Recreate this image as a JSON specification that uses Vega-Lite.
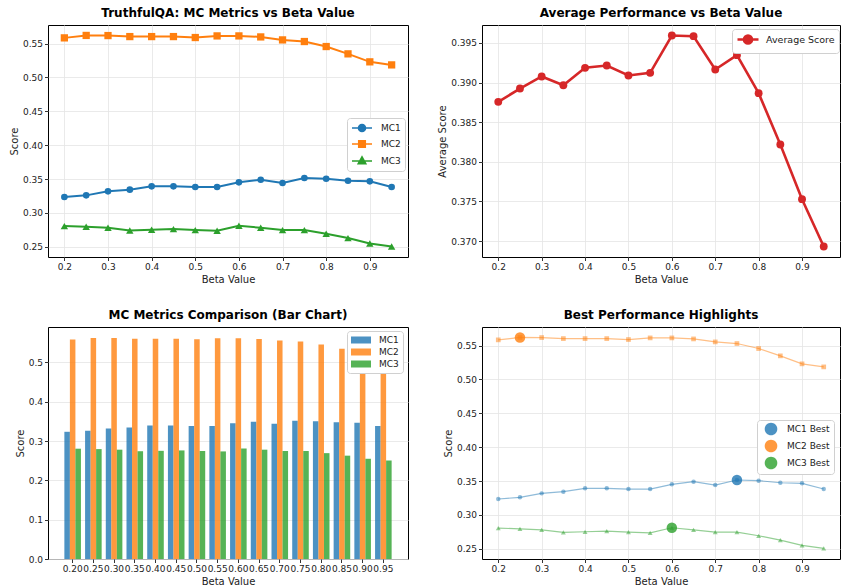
{
  "$schema": "https://vega.github.io/schema/vega-lite/v6.json",
  "background": "white",
  "padding": {"left": 8, "top": 6, "right": 1, "bottom": 0},
  "spacing": {"row": 23, "column": 28},
  "columns": 2,
  "resolve": {
    "scale": {"color": "independent", "stroke": "independent", "fill": "independent", "shape": "independent", "size": "independent", "x": "independent", "y": "independent"},
    "legend": {"color": "independent", "stroke": "independent", "shape": "independent"}
  },
  "datasets": {
    "scores": [
      {"beta": 0.20, "metric": "MC1", "score": 0.3235}, {"beta": 0.20, "metric": "MC2", "score": 0.5584}, {"beta": 0.20, "metric": "MC3", "score": 0.2805},
      {"beta": 0.25, "metric": "MC1", "score": 0.3259}, {"beta": 0.25, "metric": "MC2", "score": 0.5620}, {"beta": 0.25, "metric": "MC3", "score": 0.2795},
      {"beta": 0.30, "metric": "MC1", "score": 0.3318}, {"beta": 0.30, "metric": "MC2", "score": 0.5618}, {"beta": 0.30, "metric": "MC3", "score": 0.2780},
      {"beta": 0.35, "metric": "MC1", "score": 0.3343}, {"beta": 0.35, "metric": "MC2", "score": 0.5603}, {"beta": 0.35, "metric": "MC3", "score": 0.2741},
      {"beta": 0.40, "metric": "MC1", "score": 0.3392}, {"beta": 0.40, "metric": "MC2", "score": 0.5603}, {"beta": 0.40, "metric": "MC3", "score": 0.2751},
      {"beta": 0.45, "metric": "MC1", "score": 0.3392}, {"beta": 0.45, "metric": "MC2", "score": 0.5603}, {"beta": 0.45, "metric": "MC3", "score": 0.2761},
      {"beta": 0.50, "metric": "MC1", "score": 0.3382}, {"beta": 0.50, "metric": "MC2", "score": 0.5589}, {"beta": 0.50, "metric": "MC3", "score": 0.2746},
      {"beta": 0.55, "metric": "MC1", "score": 0.3382}, {"beta": 0.55, "metric": "MC2", "score": 0.5613}, {"beta": 0.55, "metric": "MC3", "score": 0.2736},
      {"beta": 0.60, "metric": "MC1", "score": 0.3451}, {"beta": 0.60, "metric": "MC2", "score": 0.5613}, {"beta": 0.60, "metric": "MC3", "score": 0.2810},
      {"beta": 0.65, "metric": "MC1", "score": 0.3490}, {"beta": 0.65, "metric": "MC2", "score": 0.5598}, {"beta": 0.65, "metric": "MC3", "score": 0.2780},
      {"beta": 0.70, "metric": "MC1", "score": 0.3441}, {"beta": 0.70, "metric": "MC2", "score": 0.5554}, {"beta": 0.70, "metric": "MC3", "score": 0.2746},
      {"beta": 0.75, "metric": "MC1", "score": 0.3515}, {"beta": 0.75, "metric": "MC2", "score": 0.5530}, {"beta": 0.75, "metric": "MC3", "score": 0.2746},
      {"beta": 0.80, "metric": "MC1", "score": 0.3505}, {"beta": 0.80, "metric": "MC2", "score": 0.5456}, {"beta": 0.80, "metric": "MC3", "score": 0.2692},
      {"beta": 0.85, "metric": "MC1", "score": 0.3475}, {"beta": 0.85, "metric": "MC2", "score": 0.5348}, {"beta": 0.85, "metric": "MC3", "score": 0.2628},
      {"beta": 0.90, "metric": "MC1", "score": 0.3466}, {"beta": 0.90, "metric": "MC2", "score": 0.5230}, {"beta": 0.90, "metric": "MC3", "score": 0.2549},
      {"beta": 0.95, "metric": "MC1", "score": 0.3382}, {"beta": 0.95, "metric": "MC2", "score": 0.5185}, {"beta": 0.95, "metric": "MC3", "score": 0.2505}
    ],
    "avg": [
      {"beta": 0.20, "score": 0.38756}, {"beta": 0.25, "score": 0.38924}, {"beta": 0.30, "score": 0.39076}, {"beta": 0.35, "score": 0.38966},
      {"beta": 0.40, "score": 0.39185}, {"beta": 0.45, "score": 0.39214}, {"beta": 0.50, "score": 0.39088}, {"beta": 0.55, "score": 0.39122},
      {"beta": 0.60, "score": 0.39592}, {"beta": 0.65, "score": 0.39584}, {"beta": 0.70, "score": 0.39164}, {"beta": 0.75, "score": 0.39345},
      {"beta": 0.80, "score": 0.38866}, {"beta": 0.85, "score": 0.38218}, {"beta": 0.90, "score": 0.37529}, {"beta": 0.95, "score": 0.36933}
    ],
    "best": [
      {"beta": 0.75, "label": "MC1 Best", "score": 0.3515},
      {"beta": 0.25, "label": "MC2 Best", "score": 0.5620},
      {"beta": 0.60, "label": "MC3 Best", "score": 0.2810}
    ]
  },
  "config": {
    "font": "DejaVu Sans",
    "view": {"stroke": "#000000", "strokeWidth": 1},
    "axis": {
      "domain": false, "tickColor": "#000000", "tickSize": 3.5, "tickWidth": 0.8,
      "labelFont": "DejaVu Sans", "labelFontSize": 9, "labelColor": "#222222", "labelPadding": 2,
      "labelFlush": false, "labelOverlap": false,
      "titleFont": "DejaVu Sans", "titleFontSize": 10, "titleFontWeight": "normal", "titleColor": "#222222", "titlePadding": 3,
      "gridColor": "#e5e5e5", "gridWidth": 0.8
    },
    "title": {"font": "DejaVu Sans", "fontSize": 12, "fontWeight": "bold", "color": "#000000", "offset": 5, "baseline": "alphabetic"},
    "legend": {
      "labelFont": "DejaVu Sans", "labelFontSize": 9, "labelColor": "#222222",
      "fillColor": "white", "strokeColor": "#d0d0d0", "cornerRadius": 3, "padding": 4,
      "symbolSize": 100, "rowPadding": 2
    }
  },
  "concat": [
    {
      "width": 360, "height": 232,
      "title": "TruthfulQA: MC Metrics vs Beta Value",
      "data": {"name": "scores"},
      "encoding": {
        "x": {"field": "beta", "type": "quantitative", "scale": {"domain": [0.1625, 0.9875], "nice": false, "zero": false},
              "axis": {"title": "Beta Value", "values": [0.2, 0.3, 0.4, 0.5, 0.6, 0.7, 0.8, 0.9], "format": ".1f"}},
        "y": {"field": "score", "type": "quantitative", "scale": {"domain": [0.2349, 0.5774], "nice": false, "zero": false},
              "axis": {"title": "Score", "values": [0.25, 0.30, 0.35, 0.40, 0.45, 0.50, 0.55], "format": ".2f"}}
      },
      "layer": [
        {
          "mark": {"type": "line", "strokeWidth": 2},
          "encoding": {
            "color": {"field": "metric", "type": "nominal", "scale": {"domain": ["MC1", "MC2", "MC3"], "range": ["#1f77b4", "#ff7f0e", "#2ca02c"]}}
          }
        },
        {
          "transform": [{"filter": "datum.metric === 'MC1'"}],
          "mark": {"type": "point", "filled": true, "opacity": 1, "shape": "circle", "size": 44},
          "encoding": {"color": {"field": "metric", "type": "nominal"}}
        },
        {
          "transform": [{"filter": "datum.metric === 'MC2'"}],
          "mark": {"type": "point", "filled": true, "opacity": 1, "shape": "square", "size": 53},
          "encoding": {"color": {"field": "metric", "type": "nominal"}}
        },
        {
          "transform": [{"filter": "datum.metric === 'MC3'"}],
          "mark": {"type": "point", "filled": true, "opacity": 1, "shape": "triangle-up", "size": 55},
          "encoding": {"color": {"field": "metric", "type": "nominal"}}
        },
        {
          "mark": {"type": "point", "filled": true, "opacity": 0},
          "encoding": {
            "color": {"field": "metric", "type": "nominal",
              "legend": {"title": null, "orient": "none", "legendX": 299, "legendY": 93, "symbolStrokeWidth": 1.6, "labelOffset": 18, "symbolOpacity": 1}},
            "stroke": {"field": "metric", "type": "nominal", "scale": {"domain": ["MC1", "MC2", "MC3"], "range": ["#1f77b4", "#ff7f0e", "#2ca02c"]},
              "legend": {"title": null, "orient": "none", "legendX": 299, "legendY": 93, "symbolStrokeWidth": 1.6, "labelOffset": 18, "symbolOpacity": 1}},
            "shape": {"field": "metric", "type": "nominal",
              "scale": {"domain": ["MC1", "MC2", "MC3"], "range": ["M-1,0H3M0.3,0A0.7,0.7,0,1,1,1.7,0A0.7,0.7,0,1,1,0.3,0Z", "M-1,0H3M0.35,-0.65H1.65V0.65H0.35Z", "M-1,0H3M1,-0.8L1.75,0.55H0.25Z"]},
              "legend": {"title": null, "orient": "none", "legendX": 299, "legendY": 93, "symbolStrokeWidth": 1.6, "labelOffset": 18, "symbolOpacity": 1}}
          }
        }
      ]
    },
    {
      "width": 358, "height": 232,
      "title": "Average Performance vs Beta Value",
      "data": {"name": "avg"},
      "encoding": {
        "x": {"field": "beta", "type": "quantitative", "scale": {"domain": [0.1625, 0.9875], "nice": false, "zero": false},
              "axis": {"title": "Beta Value", "values": [0.2, 0.3, 0.4, 0.5, 0.6, 0.7, 0.8, 0.9], "format": ".1f"}},
        "y": {"field": "score", "type": "quantitative", "scale": {"domain": [0.3680, 0.39725], "nice": false, "zero": false},
              "axis": {"title": "Average Score", "values": [0.370, 0.375, 0.380, 0.385, 0.390, 0.395], "format": ".3f"}}
      },
      "layer": [
        {
          "mark": {"type": "line", "strokeWidth": 2.6, "color": "#d62728"},
          "encoding": {}
        },
        {
          "mark": {"type": "point", "filled": true, "opacity": 1, "size": 62},
          "encoding": {
            "color": {"datum": "Average Score", "type": "nominal", "scale": {"domain": ["Average Score"], "range": ["#d62728"]},
              "legend": {
                "title": null, "orient": "none", "legendX": 250, "legendY": 4, "symbolStrokeWidth": 2.6, "labelOffset": 17, "labelFontSize": 9.5,
                "symbolType": "M-1,0H3.2M0.3,0A0.8,0.8,0,1,1,1.9,0A0.8,0.8,0,1,1,0.3,0Z",
                "symbolStrokeColor": "#d62728", "symbolOpacity": 1
              }}
          }
        }
      ]
    },
    {
      "width": 360, "height": 232,
      "title": "MC Metrics Comparison (Bar Chart)",
      "data": {"name": "scores"},
      "mark": {"type": "bar", "opacity": 0.8},
      "encoding": {
        "x": {"field": "beta", "type": "ordinal", "scale": {"paddingInner": 0.2, "paddingOuter": 0.79},
              "axis": {"title": "Beta Value", "labelAngle": 0, "labelExpr": "format(datum.value, '.2f')", "grid": false}},
        "xOffset": {"field": "metric", "type": "nominal", "scale": {"domain": ["MC1", "MC2", "MC3"], "paddingInner": 0, "paddingOuter": 0}},
        "y": {"field": "score", "type": "quantitative", "scale": {"domain": [0, 0.59], "nice": false, "zero": true},
              "axis": {"title": "Score", "values": [0, 0.1, 0.2, 0.3, 0.4, 0.5], "format": ".1f"}},
        "color": {"field": "metric", "type": "nominal", "scale": {"domain": ["MC1", "MC2", "MC3"], "range": ["#1f77b4", "#ff7f0e", "#2ca02c"]},
          "legend": {
            "title": null, "orient": "none", "legendX": 299, "legendY": 4, "symbolStrokeWidth": 0, "labelOffset": 18,
            "symbolType": "M-1,-0.7H3V0.7H-1Z", "symbolOpacity": 0.8
          }}
      }
    },
    {
      "width": 358, "height": 232,
      "title": "Best Performance Highlights",
      "encoding": {
        "x": {"field": "beta", "type": "quantitative", "scale": {"domain": [0.1625, 0.9875], "nice": false, "zero": false},
              "axis": {"title": "Beta Value", "values": [0.2, 0.3, 0.4, 0.5, 0.6, 0.7, 0.8, 0.9], "format": ".1f"}},
        "y": {"field": "score", "type": "quantitative", "scale": {"domain": [0.2349, 0.5774], "nice": false, "zero": false},
              "axis": {"title": "Score", "values": [0.25, 0.30, 0.35, 0.40, 0.45, 0.50, 0.55], "format": ".2f"}}
      },
      "layer": [
        {
          "data": {"name": "scores"},
          "mark": {"type": "line", "strokeWidth": 1.2, "opacity": 0.5},
          "encoding": {
            "stroke": {"field": "metric", "type": "nominal", "scale": {"domain": ["MC1", "MC2", "MC3"], "range": ["#1f77b4", "#ff7f0e", "#2ca02c"]}, "legend": null}
          }
        },
        {
          "data": {"name": "scores"},
          "mark": {"type": "point", "filled": true, "opacity": 0.5},
          "encoding": {
            "fill": {"field": "metric", "type": "nominal", "scale": {"domain": ["MC1", "MC2", "MC3"], "range": ["#1f77b4", "#ff7f0e", "#2ca02c"]}, "legend": null},
            "shape": {"field": "metric", "type": "nominal", "scale": {"domain": ["MC1", "MC2", "MC3"], "range": ["circle", "square", "triangle-up"]}, "legend": null},
            "size": {"field": "metric", "type": "nominal", "scale": {"domain": ["MC1", "MC2", "MC3"], "range": [20, 24, 26]}, "legend": null}
          }
        },
        {
          "data": {"name": "best"},
          "mark": {"type": "point", "filled": true, "opacity": 0.8, "shape": "circle", "size": 110},
          "encoding": {
            "color": {"field": "label", "type": "nominal", "scale": {"domain": ["MC1 Best", "MC2 Best", "MC3 Best"], "range": ["#1f77b4", "#ff7f0e", "#2ca02c"]},
              "legend": {
                "title": null, "orient": "none", "legendX": 275, "legendY": 93, "symbolStrokeWidth": 0, "labelOffset": 16, "rowPadding": 3,
                "symbolType": "M-0.26,0A1.26,1.26,0,1,1,2.26,0A1.26,1.26,0,1,1,-0.26,0Z", "symbolOpacity": 0.8
              }}
          }
        }
      ]
    }
  ]
}
